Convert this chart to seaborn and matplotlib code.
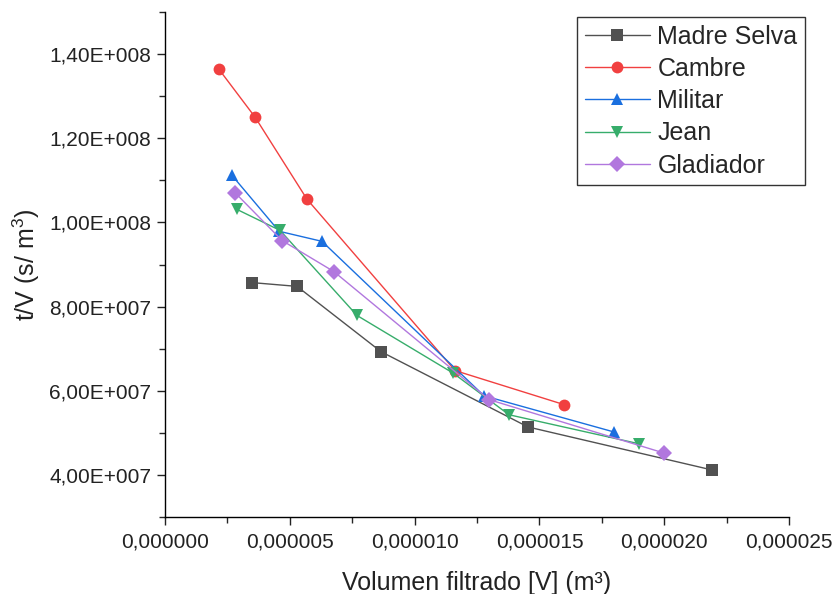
import numpy as np
import pandas as pd
import seaborn as sns
import matplotlib.pyplot as plt
from matplotlib.ticker import FuncFormatter, MultipleLocator

muestras = ["Madre Selva", "Cambre", "Militar", "Jean", "Gladiador"]

v_madre = [3.49e-6, 5.29e-6, 8.65e-6, 14.54e-6, 21.9e-6]
tv_madre = [8.57e7, 8.48e7, 6.93e7, 5.14e7, 4.12e7]

v_cambre = [2.16e-6, 3.61e-6, 5.69e-6, 11.62e-6, 15.99e-6]
tv_cambre = [1.364e8, 1.25e8, 1.055e8, 6.48e7, 5.67e7]

v_militar = [2.68e-6, 4.57e-6, 6.29e-6, 12.78e-6, 17.99e-6]
tv_militar = [1.112e8, 9.79e7, 9.55e7, 5.88e7, 5.02e7]

v_jean = [2.88e-6, 4.61e-6, 7.69e-6, 11.54e-6, 13.78e-6, 18.99e-6]
tv_jean = [1.031e8, 9.81e7, 7.79e7, 6.42e7, 5.43e7, 4.74e7]

v_glad = [2.8e-6, 4.69e-6, 6.77e-6, 12.98e-6, 19.99e-6]
tv_glad = [1.071e8, 9.57e7, 8.83e7, 5.79e7, 4.52e7]

series = [v_madre, v_cambre, v_militar, v_jean, v_glad]
valores = [tv_madre, tv_cambre, tv_militar, tv_jean, tv_glad]

df = pd.concat([pd.DataFrame({"V": x, "tV": y, "muestra": m})
                for m, x, y in zip(muestras, series, valores)], ignore_index=True)

colores = ["#515151", "#F14040", "#1A6FDF", "#37AD6B", "#B177DE"]
marcas = ["s", "o", "^", "v", "D"]

sns.set_style("ticks")
plt.rcParams['font.family'] = ['Liberation Sans', 'DejaVu Sans']
plt.rcParams['mathtext.fontset'] = 'custom'
plt.rcParams['mathtext.rm'] = 'Liberation Sans'

fig = plt.figure(figsize=(8.35, 5.94), dpi=100)
ax = fig.add_axes([0.1976, 0.1296, 0.7474, 0.8502])

sns.lineplot(data=df, x="V", y="tV", hue="muestra", style="muestra",
             hue_order=muestras, style_order=muestras,
             palette=dict(zip(muestras, colores)),
             markers=dict(zip(muestras, marcas)), dashes=False,
             estimator=None, sort=False, linewidth=1, markersize=8.5,
             markeredgewidth=0, ax=ax)

ax.set_xlim(0, 0.000025)
ax.set_ylim(3e7, 1.5e8)
ax.xaxis.set_major_locator(MultipleLocator(0.000005))
ax.xaxis.set_minor_locator(MultipleLocator(0.0000025))
ax.yaxis.set_major_locator(MultipleLocator(2e7))
ax.yaxis.set_minor_locator(MultipleLocator(1e7))
ax.xaxis.set_major_formatter(FuncFormatter(lambda v, p: f"{v:.6f}".replace(".", ",")))


def fmt_y(v, p):
    e = int(np.floor(np.log10(v)))
    return f"{v / 10**e:.2f}".replace(".", ",") + f"E+{e:03d}"


ax.yaxis.set_major_formatter(FuncFormatter(fmt_y))
ax.tick_params(axis="both", which="major", direction="out", length=6, width=1,
               labelsize=15, colors="#222222", pad=5)
ax.tick_params(axis="both", which="minor", direction="out", length=4, width=1)
ax.tick_params(axis="y", which="major", pad=4)
for s in ["top", "right"]:
    ax.spines[s].set_visible(False)
for s in ["left", "bottom"]:
    ax.spines[s].set_linewidth(1)
    ax.spines[s].set_color("black")

ax.set_xlabel("Volumen filtrado [V] (m³)", fontsize=18, color="#222222", labelpad=14)
ax.set_ylabel("t/V (s/ m$^{3}$)", fontsize=18, color="#222222")
ax.yaxis.set_label_coords(-0.197, 0.5)

leg = ax.legend(loc="upper right", bbox_to_anchor=(0.964, 0.971),
                bbox_transform=fig.transFigure, fontsize=18, frameon=True,
                fancybox=False, edgecolor="black", handlelength=2.6,
                borderpad=0.3, labelspacing=0.33, handletextpad=0.3,
                borderaxespad=0)
leg.get_frame().set_linewidth(1)

fig.savefig("out.png", dpi=100)
